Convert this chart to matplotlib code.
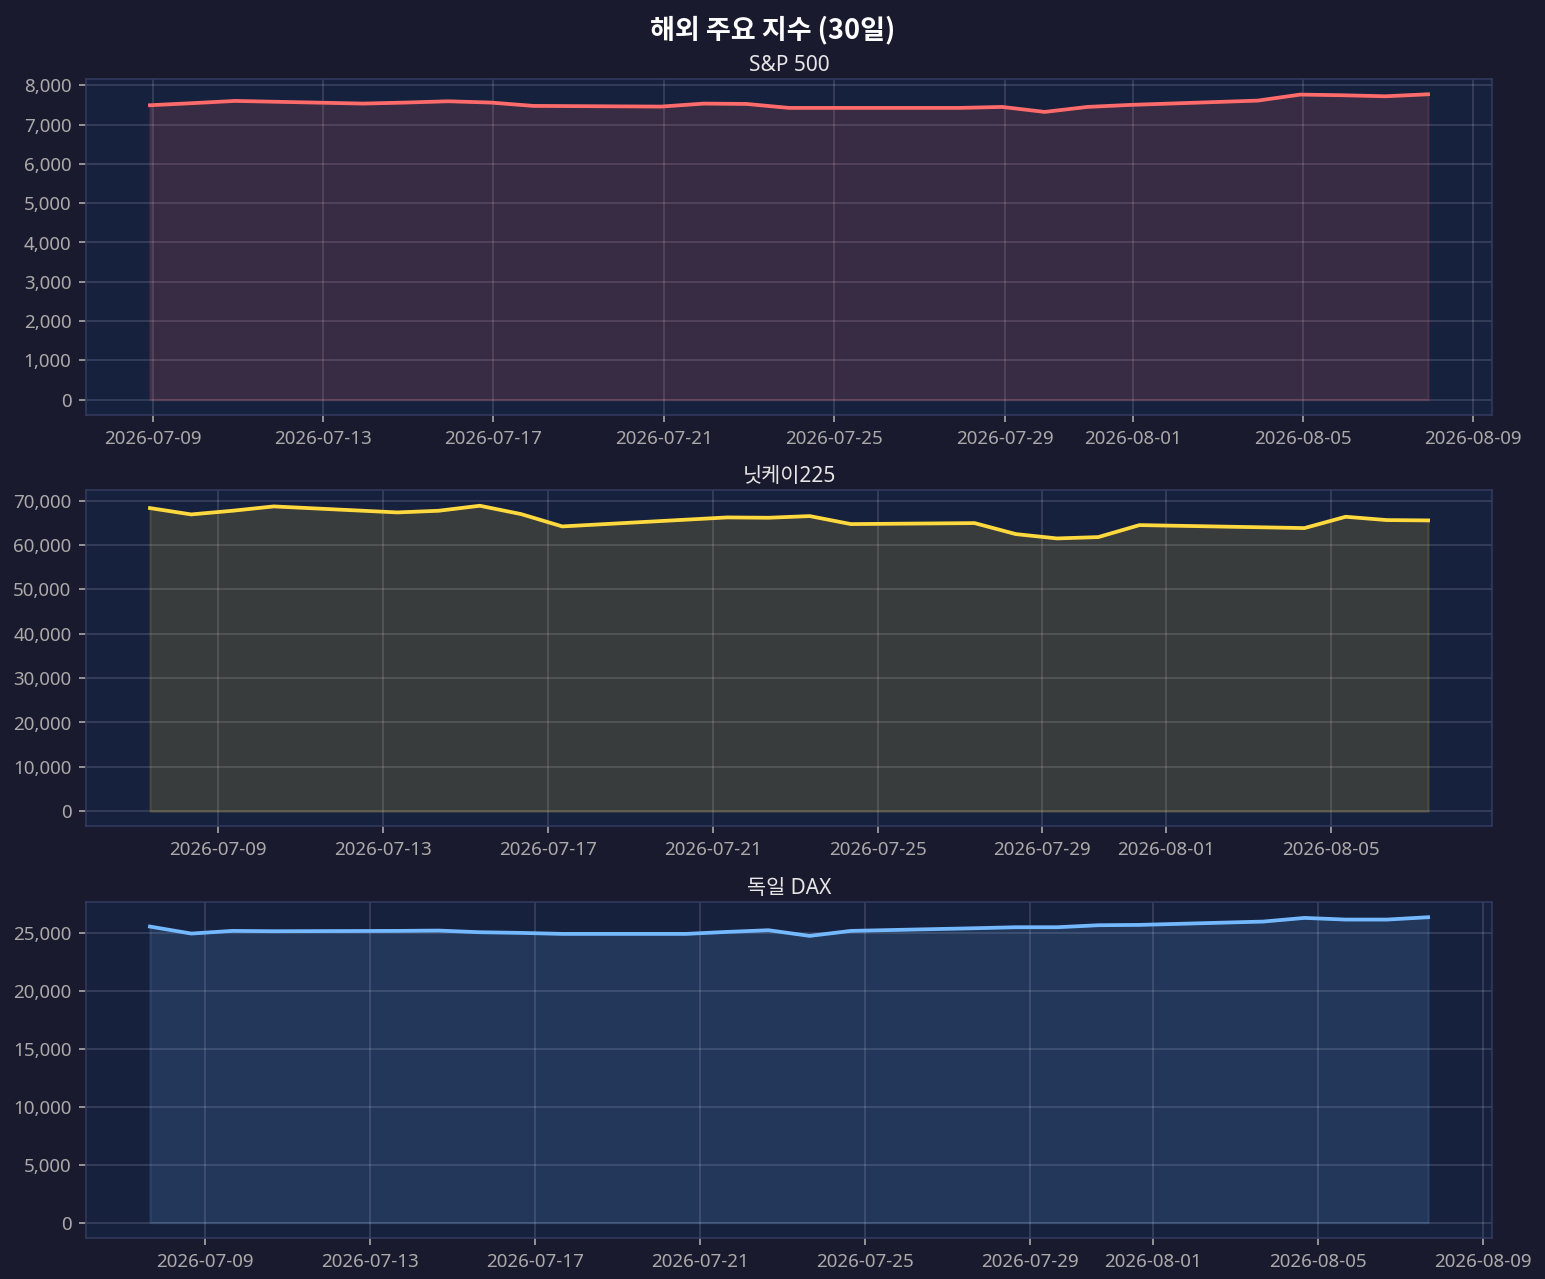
import matplotlib
matplotlib.use("Agg")
import matplotlib.pyplot as plt
import matplotlib.dates as mdates
from matplotlib.ticker import FuncFormatter, MaxNLocator
import pandas as pd

plt.rcParams['font.family'] = ['Noto Sans', 'Noto Sans CJK KR', 'DejaVu Sans']

# ---- data ----
sp_dates = ["2026-07-08", "2026-07-09", "2026-07-10", "2026-07-13", "2026-07-14", "2026-07-15",
            "2026-07-16", "2026-07-17", "2026-07-20", "2026-07-21", "2026-07-22", "2026-07-23",
            "2026-07-24", "2026-07-27", "2026-07-28", "2026-07-29", "2026-07-30", "2026-07-31",
            "2026-08-03", "2026-08-04", "2026-08-05", "2026-08-06", "2026-08-07"]
sp_values = [7492, 7545, 7602, 7534, 7560, 7593, 7560, 7475, 7458, 7534, 7525, 7424,
             7424, 7424, 7449, 7322, 7449, 7500, 7610, 7763, 7746, 7720, 7771]

nk_dates = ["2026-07-07", "2026-07-08", "2026-07-09", "2026-07-10", "2026-07-13", "2026-07-14",
            "2026-07-15", "2026-07-16", "2026-07-17", "2026-07-21", "2026-07-22", "2026-07-23",
            "2026-07-24", "2026-07-27", "2026-07-28", "2026-07-29", "2026-07-30", "2026-07-31",
            "2026-08-03", "2026-08-04", "2026-08-05", "2026-08-06", "2026-08-07"]
nk_values = [68346, 66917, 67744, 68722, 67368, 67744, 68872, 66992, 64211, 66241, 66165, 66541,
             64737, 64962, 62481, 61504, 61805, 64511, 64008, 63835, 66391, 65639, 65564]

dax_dates = ["2026-07-07", "2026-07-08", "2026-07-09", "2026-07-10", "2026-07-13", "2026-07-14",
             "2026-07-15", "2026-07-16", "2026-07-17", "2026-07-20", "2026-07-21", "2026-07-22",
             "2026-07-23", "2026-07-24", "2026-07-27", "2026-07-28", "2026-07-29", "2026-07-30",
             "2026-07-31", "2026-08-03", "2026-08-04", "2026-08-05", "2026-08-06", "2026-08-07"]
dax_values = [25546, 24943, 25172, 25144, 25172, 25201, 25057, 25000, 24914, 24914, 25086, 25230,
              24741, 25172, 25402, 25488, 25488, 25661, 25690, 25977, 26293, 26149, 26149, 26351]

titles = ["S&P 500", "닛케이225", "독일 DAX"]
close_times = ["22:30", "08:30", "16:00"]
colors = ["#ff6b6b", "#ffd93d", "#74b9ff"]
suptitle = "해외 주요 지수 (30일)"

series = [(sp_dates, sp_values), (nk_dates, nk_values), (dax_dates, dax_values)]

BG = "#1a1a2e"
FACE = "#16213e"

fig = plt.figure(figsize=(10.3, 8.527), dpi=150, facecolor=BG)
fig.subplots_adjust(left=0.0557, right=0.9657, top=0.9382, bottom=0.0321, hspace=0.2247)
axes = fig.subplots(3, 1)

for ax, (d, v), title, t, c in zip(axes, series, titles, close_times, colors):
    x = pd.to_datetime([f"{s} {t}" for s in d])
    ax.set_facecolor(FACE)
    ax.plot(x, v, color=c, lw=1.8, zorder=3)
    ax.fill_between(x, v, 0, color=c, alpha=0.15, zorder=2)
    ax.set_title(title, color="#e6e6e6", fontsize=10, pad=4)
    ax.grid(True, color="white", alpha=0.15, lw=0.8)
    ax.xaxis.set_major_locator(mdates.DayLocator(bymonthday=[1, 5, 9, 13, 17, 21, 25, 29]))
    ax.xaxis.set_major_formatter(mdates.DateFormatter("%Y-%m-%d"))
    ax.yaxis.set_major_locator(MaxNLocator(nbins=10, steps=[1, 2, 2.5, 5, 10]))
    ax.yaxis.set_major_formatter(FuncFormatter(lambda val, p: f"{val:,.0f}"))
    ax.tick_params(colors="#aaaaaa", labelsize=9, length=3.5)
    for sp in ax.spines.values():
        sp.set_color("#33395e")
        sp.set_linewidth(0.8)

fig.suptitle(suptitle, color="white", fontsize=13, fontweight="bold", y=0.988,
             family=['Noto Sans CJK KR', 'DejaVu Sans'])
fig.savefig("out.png", dpi=150, facecolor=BG)
